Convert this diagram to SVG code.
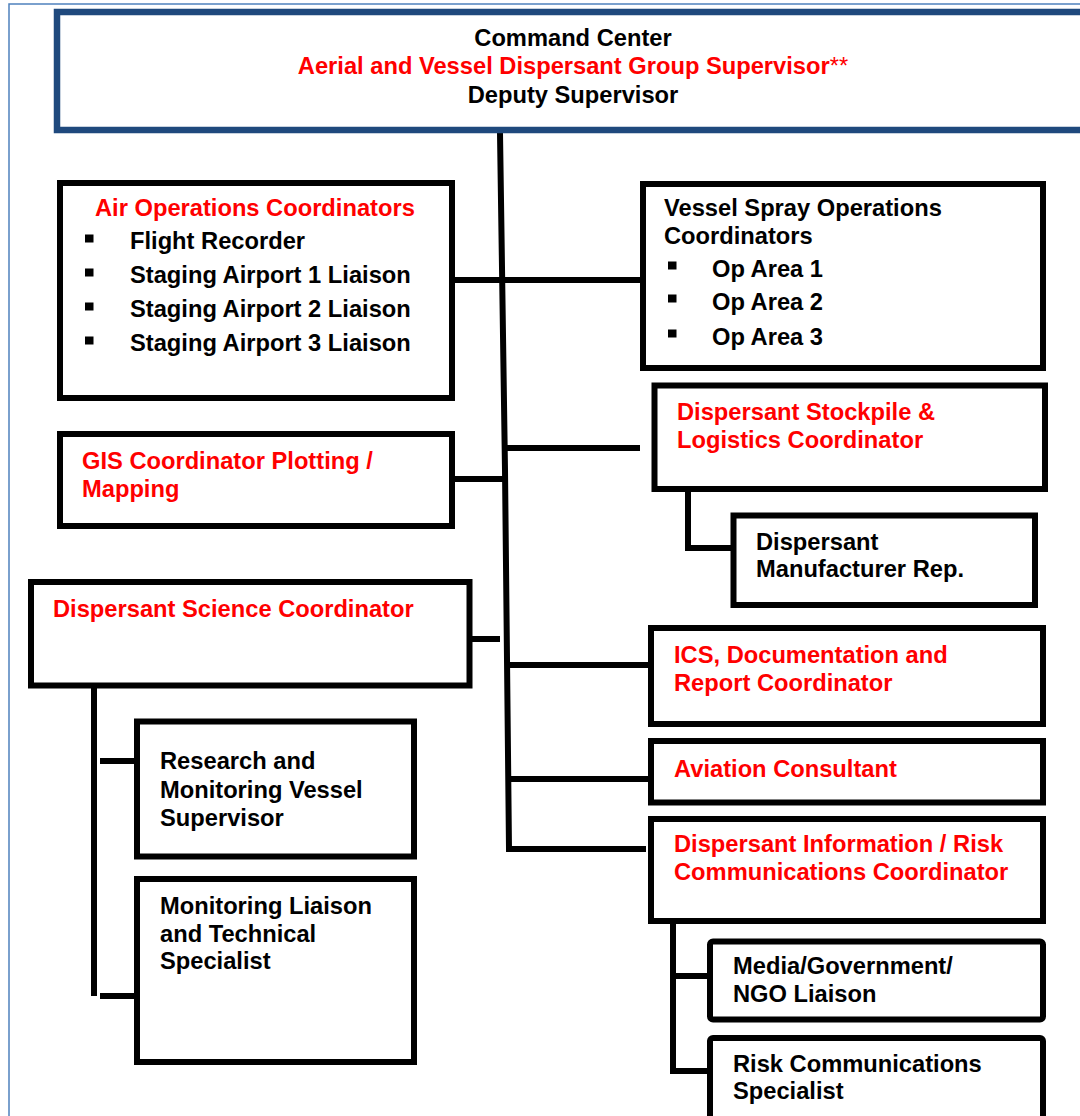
<svg xmlns="http://www.w3.org/2000/svg" width="1080" height="1116" viewBox="0 0 1080 1116">
<style>
.box{fill:#fff;stroke:#000;stroke-width:6}
.top{fill:#fff;stroke:#1F497D;stroke-width:6.5}
.t{font-family:"Liberation Sans",Arial,sans-serif;font-weight:bold;font-size:23.7px;fill:#000}
.r{fill:#FF0000}
.c{fill:none;stroke:#000;stroke-width:6}
.frame{fill:none;stroke:#4F81BD;stroke-width:1.5}
</style>
<rect width="1080" height="1116" fill="#fff"/>
<path class="frame" d="M9,1116 L9,4 L1080,4"/>
<g id="connectors">
<path class="c" d="M500,133 L505,470 L509,849 L646,849"/>
<path class="c" d="M455,280 L641,280"/>
<path class="c" d="M505,448 L640,448"/>
<path class="c" d="M454,479 L507,479"/>
<path class="c" d="M464,639 L500,639"/>
<path class="c" d="M507,665 L648,665"/>
<path class="c" d="M508,779 L648,779"/>
<path class="c" d="M688,489 L688,548 L733,548"/>
<path class="c" d="M94,688 L94,996"/>
<path class="c" d="M100,761 L137,761"/>
<path class="c" d="M100,996 L137,996"/>
<path class="c" d="M673,921 L673,1071 L710,1071"/>
<path class="c" d="M673,976 L710,976"/>
</g>
<g id="command">
<rect class="top" x="57" y="12" width="1040" height="118"/>
<text class="t" x="573" y="46" text-anchor="middle">Command Center</text>
<text class="t r" x="573" y="74" text-anchor="middle">Aerial and Vessel Dispersant Group Supervisor<tspan font-weight="normal">**</tspan></text>
<text class="t" x="573" y="103" text-anchor="middle">Deputy Supervisor</text>
</g>
<g id="air-ops">
<rect class="box" x="60" y="183" width="392" height="215"/>
<text class="t r" x="95" y="216">Air Operations Coordinators</text>
<rect x="85" y="234.5" width="8.5" height="8"/>
<rect x="85" y="268.5" width="8.5" height="8"/>
<rect x="85" y="302.5" width="8.5" height="8"/>
<rect x="85" y="336.5" width="8.5" height="8"/>
<text class="t" x="130" y="249">Flight Recorder</text>
<text class="t" x="130" y="283">Staging Airport 1 Liaison</text>
<text class="t" x="130" y="317">Staging Airport 2 Liaison</text>
<text class="t" x="130" y="351">Staging Airport 3 Liaison</text>
</g>
<g id="vessel-spray">
<rect class="box" x="643" y="184" width="400" height="184"/>
<text class="t" x="664" y="216">Vessel Spray Operations</text>
<text class="t" x="664" y="244">Coordinators</text>
<rect x="668" y="261.5" width="8.5" height="8"/>
<rect x="668" y="294.5" width="8.5" height="8"/>
<rect x="668" y="329.5" width="8.5" height="8"/>
<text class="t" x="712" y="277">Op Area 1</text>
<text class="t" x="712" y="310">Op Area 2</text>
<text class="t" x="712" y="345">Op Area 3</text>
</g>
<g id="gis">
<rect class="box" x="60" y="434" width="392" height="92"/>
<text class="t r" x="82" y="469">GIS Coordinator Plotting /</text>
<text class="t r" x="82" y="497">Mapping</text>
</g>
<g id="stockpile">
<rect class="box" x="654.5" y="385.5" width="390.5" height="103.5"/>
<text class="t r" x="677" y="420">Dispersant Stockpile &amp;</text>
<text class="t r" x="677" y="448">Logistics Coordinator</text>
</g>
<g id="manufacturer">
<rect class="box" x="733.5" y="515.5" width="301.5" height="89.5"/>
<text class="t" x="756" y="550">Dispersant</text>
<text class="t" x="756" y="577">Manufacturer Rep.</text>
</g>
<g id="science">
<rect class="box" x="31" y="582" width="438.5" height="103.5"/>
<text class="t r" x="53" y="617">Dispersant Science Coordinator</text>
</g>
<g id="research">
<rect class="box" x="137" y="721.5" width="277" height="135"/>
<text class="t" x="160" y="769">Research and</text>
<text class="t" x="160" y="798">Monitoring Vessel</text>
<text class="t" x="160" y="826">Supervisor</text>
</g>
<g id="monitoring">
<rect class="box" x="137" y="879" width="277" height="183"/>
<text class="t" x="160" y="914">Monitoring Liaison</text>
<text class="t" x="160" y="942">and Technical</text>
<text class="t" x="160" y="969">Specialist</text>
</g>
<g id="ics">
<rect class="box" x="651" y="628" width="392" height="96"/>
<text class="t r" x="674" y="663">ICS, Documentation and</text>
<text class="t r" x="674" y="691">Report Coordinator</text>
</g>
<g id="aviation">
<rect class="box" x="651" y="741" width="392" height="61.5"/>
<text class="t r" x="674" y="777">Aviation Consultant</text>
</g>
<g id="info-risk">
<rect class="box" x="651" y="819" width="392" height="102"/>
<text class="t r" x="674" y="852">Dispersant Information / Risk</text>
<text class="t r" x="674" y="880">Communications Coordinator</text>
</g>
<g id="media">
<rect class="box" x="710" y="941.5" width="333" height="78" rx="3"/>
<text class="t" x="733" y="974">Media/Government/</text>
<text class="t" x="733" y="1002">NGO Liaison</text>
</g>
<g id="risk-comm">
<rect class="box" x="710" y="1038" width="333" height="100" rx="3"/>
<text class="t" x="733" y="1072">Risk Communications</text>
<text class="t" x="733" y="1099">Specialist</text>
</g>
</svg>
